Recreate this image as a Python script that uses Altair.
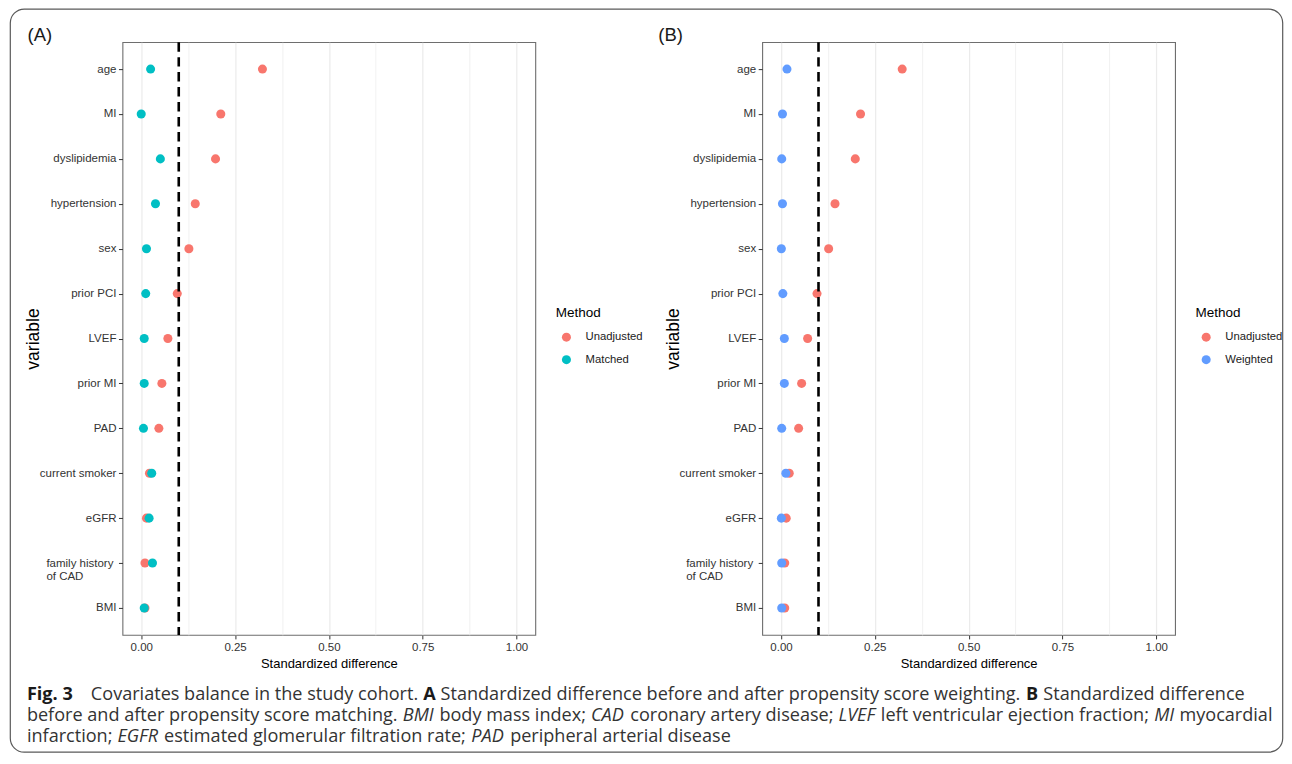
import altair as alt
import pandas as pd

# ---------------- data ----------------
variables = ["age", "MI", "dyslipidemia", "hypertension", "sex", "prior PCI", "LVEF",
             "prior MI", "PAD", "current smoker", "eGFR", "family history of CAD", "BMI"]
unadjusted = [0.323, 0.212, 0.198, 0.144, 0.127, 0.096, 0.071, 0.055, 0.047, 0.022, 0.014, 0.010, 0.010]
matched = [0.025, 0.000, 0.051, 0.038, 0.014, 0.012, 0.008, 0.008, 0.006, 0.028, 0.021, 0.030, 0.008]
weighted = [0.016, 0.004, 0.002, 0.004, 0.001, 0.005, 0.009, 0.009, 0.002, 0.013, 0.001, 0.002, 0.002]
x_ticks = [0.0, 0.125, 0.25, 0.375, 0.5, 0.625, 0.75, 0.875, 1.0]
threshold = 0.1

panel_tags = ["(A)", "(B)"]

caption_text = [
    "Fig. 3", "Covariates balance in the study cohort.", "A",
    "Standardized difference before and after propensity score weighting.", "B",
    "Standardized difference",
    "before and after propensity score matching.", "BMI", "body mass index;", "CAD",
    "coronary artery disease;", "LVEF", "left ventricular ejection fraction;", "MI", "myocardial",
    "infarction;", "EGFR", "estimated glomerular filtration rate;", "PAD", "peripheral arterial disease",
]
caption_style = [
    "bold", "normal", "bold", "normal", "bold", "normal",
    "normal", "italic", "normal", "italic", "normal", "italic", "normal", "italic", "normal",
    "normal", "italic", "normal", "italic", "normal",
]
caption_line = [0, 0, 0, 0, 0, 0, 1, 1, 1, 1, 1, 1, 1, 1, 1, 2, 2, 2, 2, 2]

# ---------------- layout (page pixels) ----------------
PLOT_W, PLOT_H = 413, 593
PLOT_TOP, PLOT_LEFT = 41.7, 122.3
ORIGIN_X, ORIGIN_Y = PLOT_LEFT, 674.7      # caption-chart origin on the page
CAP_SIZE = 18.1
line_start_page = 26.7
line1_second_start = 90.7                  # wide gap after "Fig. 3"
line_baseline_page = [699.5, 720.5, 741.5]
tag_x_page = [27.3, 658.3]
tag_baseline_page = 40.5
box_page = dict(x=10.1, y=8.6, x2=1283, y2=752)
fam_label_left_page = 45.7

FONT = "Liberation Sans"
CAP_FONT = "Open Sans"
TICK = 4

# approximate Open Sans advance widths (1/1000 em), used to flow caption segments
W_REG = dict(zip("abcdefghijklmnopqrstuvwxyz",
                 [556, 613, 479, 613, 561, 336, 547, 613, 258, 258, 529, 258, 930,
                  613, 602, 613, 613, 408, 479, 352, 613, 500, 775, 514, 500, 463]))
W_REG.update({"A": 633, "B": 647, "C": 631, "D": 729, "E": 556, "F": 516, "G": 728,
              "H": 738, "I": 279, "L": 519, "M": 907, "P": 603, "R": 618, "S": 549,
              "V": 576, " ": 260, ".": 267, ";": 267, "3": 572})
W_BOLD = {"F": 571, "i": 285, "g": 563, ".": 285, "3": 572, "A": 690, "B": 702, " ": 260}


def text_width(s, style):
    if style == "bold":
        w = sum(W_BOLD.get(c, W_REG.get(c, 560) * 1.05) for c in s)
    elif style == "italic":
        w = sum(W_REG.get(c, 560) * 0.96 for c in s)
    else:
        w = sum(W_REG.get(c, 560) for c in s)
    return w / 1000 * CAP_SIZE


def flow_positions():
    xs, cur_line, x = [], -1, 0.0
    for i, (t, st, ln) in enumerate(zip(caption_text, caption_style, caption_line)):
        if ln != cur_line:
            cur_line, x = ln, line_start_page
        elif i == 1:
            x = line1_second_start
        xs.append(x)
        x += text_width(t, st) + W_REG[" "] / 1000 * CAP_SIZE
    return xs


caption_x_page = flow_positions()

is_major = "abs(datum.value*4 - round(datum.value*4)) < 0.001"
is_fam = "datum.value == 'family history of CAD'"


def panel(adj_name, adj_values, adj_color):
    df = pd.DataFrame({
        "variable": variables * 2,
        "value": unadjusted + adj_values,
        "Method": ["Unadjusted"] * len(variables) + [adj_name] * len(variables),
    })
    x = alt.X(
        "value:Q", title="Standardized difference",
        scale=alt.Scale(domain=[-0.05, 1.05], nice=False, zero=False),
        axis=alt.Axis(
            values=x_ticks,
            labelExpr=f"{is_major} ? format(datum.value, '.2f') : ''",
            gridWidth={"condition": {"test": is_major, "value": 1.2}, "value": 0.7},
            tickOpacity={"condition": {"test": is_major, "value": 1}, "value": 0},
            labelOverlap=False, labelFlush=False, titlePadding=5,
        ),
    )
    y = alt.Y(
        "variable:N", title="variable", sort=variables,
        scale=alt.Scale(type="point", padding=0.6),
        axis=alt.Axis(
            labelExpr=f"{is_fam} ? ['family history', 'of CAD'] : datum.value",
            labelAlign={"condition": {"test": is_fam, "value": "left"}, "value": "right"},
            labelPadding={"condition": {"test": is_fam,
                                        "value": PLOT_LEFT - fam_label_left_page - TICK},
                          "value": 2.5},
            labelLineHeight=13, minExtent=78, maxExtent=78, titlePadding=2,
        ),
    )
    pts = alt.Chart(df).mark_circle(size=82, opacity=1).encode(
        x=x, y=y,
        color=alt.Color(
            "Method:N",
            scale=alt.Scale(domain=["Unadjusted", adj_name], range=["#F8766D", adj_color]),
            legend=alt.Legend(
                title="Method", orient="none", legendX=433.5, legendY=264, padding=0,
                titleFont=FONT, titleFontSize=13.5, titleFontWeight="normal", titleColor="black",
                titlePadding=12, labelFont=FONT, labelFontSize=11.3, labelColor="#1a1a1a",
                labelOffset=13.5, symbolOffset=5, symbolType="circle", symbolSize=82,
                symbolStrokeWidth=0, symbolOpacity=1, rowPadding=10.5,
            ),
        ),
    )
    vline = alt.Chart(pd.DataFrame({"k": [0]})).mark_rule(
        color="black", strokeWidth=2.6, strokeDash=[9.5, 5.5]
    ).encode(x=alt.datum(threshold), y=alt.value(0), y2=alt.value(PLOT_H))
    return alt.layer(pts, vline).properties(width=PLOT_W, height=PLOT_H)


panelA = panel("Matched", matched, "#00BFC4")
panelB = panel("Weighted", weighted, "#619CFF")

# ---------------- caption / decorations ----------------
cap = pd.DataFrame({
    "text": caption_text,
    "style": caption_style,
    "rx": [v - ORIGIN_X for v in caption_x_page],
    "ry": [line_baseline_page[i] - ORIGIN_Y for i in caption_line],
})
tags = pd.DataFrame({
    "text": panel_tags,
    "rx": [v - ORIGIN_X for v in tag_x_page],
    "ry": [tag_baseline_page - ORIGIN_Y] * 2,
})

enc = dict(
    x=alt.X("rx:Q", scale=None, axis=None),
    y=alt.Y("ry:Q", scale=None, axis=None),
    text="text:N",
)


def cap_layer(style, weight, fstyle, color):
    return alt.Chart(cap).transform_filter(alt.datum.style == style).mark_text(
        align="left", baseline="alphabetic", font=CAP_FONT, fontSize=CAP_SIZE,
        fontWeight=weight, fontStyle=fstyle, color=color,
    ).encode(**enc)


normal_txt = cap_layer("normal", "normal", "normal", "#333333")
bold_txt = cap_layer("bold", "bold", "normal", "#1a1a1a")
italic_txt = cap_layer("italic", "normal", "italic", "#333333")

tag_txt = alt.Chart(tags).mark_text(
    align="left", baseline="alphabetic", font=FONT, fontSize=18.5, color="#1a1a1a"
).encode(**enc)

box = alt.Chart(pd.DataFrame({"k": [0]})).mark_rect(
    fill="transparent", stroke="#5a5a5a", strokeWidth=1.2, cornerRadius=14
).encode(
    x=alt.value(box_page["x"] - ORIGIN_X), x2=alt.value(box_page["x2"] - ORIGIN_X),
    y=alt.value(box_page["y"] - ORIGIN_Y), y2=alt.value(box_page["y2"] - ORIGIN_Y),
)

caption = alt.layer(box, normal_txt, bold_txt, italic_txt, tag_txt).properties(
    width=PLOT_W, height=10, view=alt.ViewBackground(strokeOpacity=0)
)

chart = alt.concat(
    panelA, panelB, caption, columns=2, bounds="flush",
    spacing={"row": ORIGIN_Y - (PLOT_TOP + PLOT_H), "column": 640 - PLOT_W},
).resolve_scale(
    color="independent"
).properties(
    padding={"left": 1.5, "top": 0, "right": 0, "bottom": 0}
).configure_view(
    stroke="#6e6e6e", strokeWidth=1.1
).configure_axis(
    labelFont=FONT, labelFontSize=11.5, labelColor="#333333",
    titleFont=FONT, titleFontWeight="normal", titleColor="black",
    domain=False, tickColor="#333333", tickSize=TICK, tickWidth=1,
    gridColor="#ebebeb", gridWidth=1.2,
).configure_axisX(
    titleFontSize=13, labelPadding=2.5
).configure_axisY(
    titleFontSize=17.5
)

chart.save("out.html", embed_options={"renderer": "svg", "actions": False})
